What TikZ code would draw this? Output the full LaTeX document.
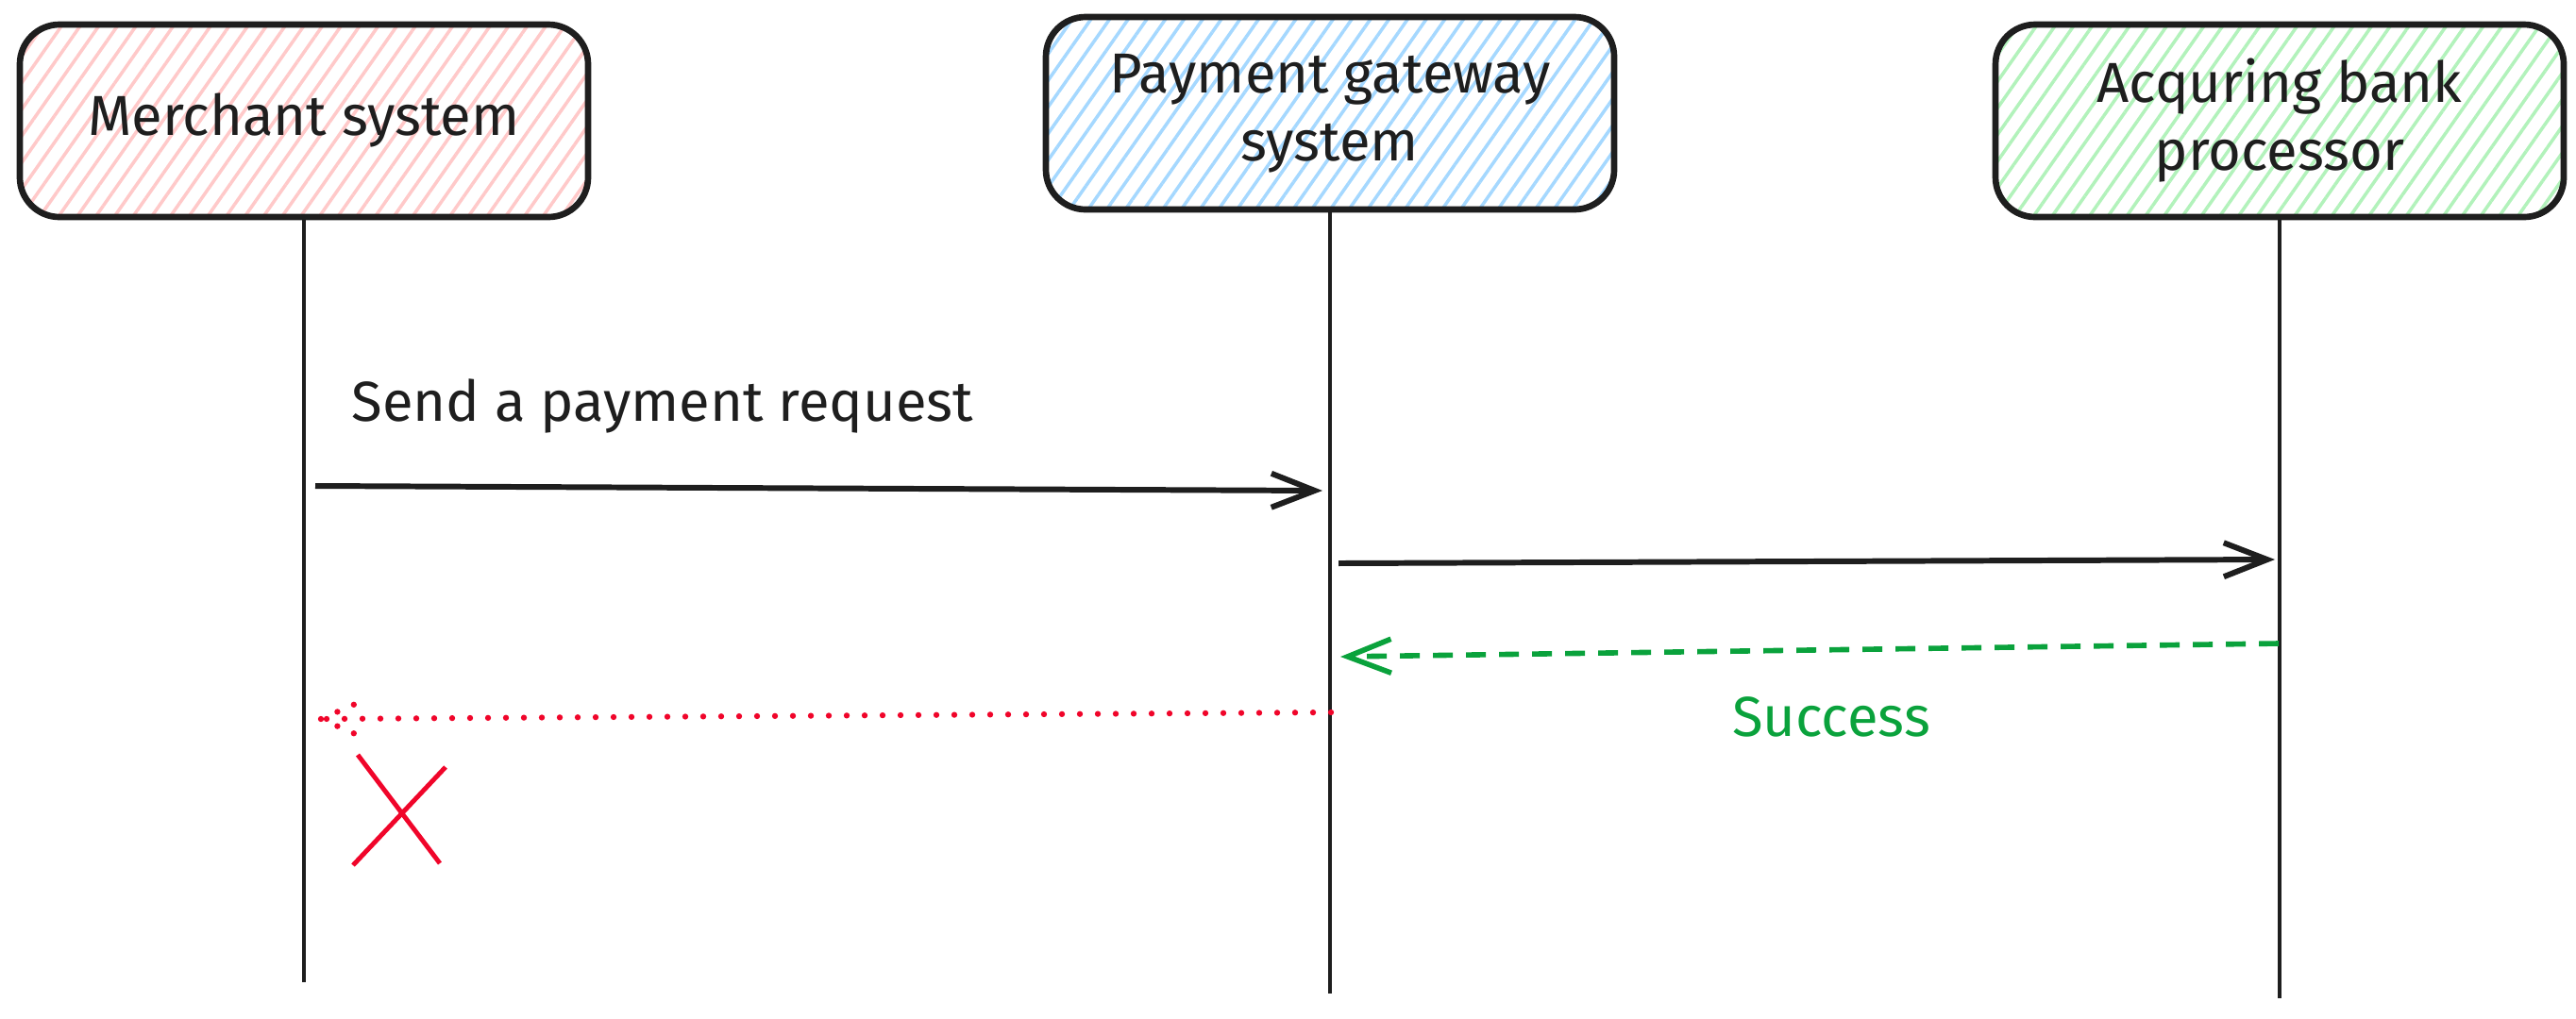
\documentclass[tikz,border=0pt]{standalone}
\usepackage{fontspec}
\setmainfont{Fira Sans}
\usetikzlibrary{arrows.meta,patterns.meta}

\definecolor{ink}{HTML}{1E1E1E}
\definecolor{hatchred}{HTML}{FFC9C9}
\definecolor{hatchblue}{HTML}{A5D8FF}
\definecolor{hatchgreen}{HTML}{B2F2BB}
\definecolor{okgreen}{HTML}{0AA23C}
\definecolor{failred}{HTML}{F0052A}

\begin{document}
\begin{tikzpicture}
[
	              y = -1cm,
	             >= {Straight Barb[length=4.6mm,width=3.6mm]},
	  actor/.style = { draw=ink, line width=1.9pt, rounded corners=0.42cm, minimum width=6.02cm,
	                   minimum height=2.04cm, inner sep=0pt, align=center, text=ink,
	                   font=\fontsize{17}{20.5}\selectfont },
	  hatch/.style = { pattern={Lines[angle=55,distance=4.6pt,line width=1pt]}, pattern color=#1 },
	   life/.style = { draw=ink, line width=1.3pt },
	    msg/.style = { ->, draw=ink, line width=1.7pt },
	  reply/.style = { ->, draw=okgreen, line width=1.6pt, dash pattern=on 0.21cm off 0.14cm },
	   fail/.style = { draw=failred, line width=1.8pt, line cap=round, dash pattern=on 0pt off 0.19cm },
	    tag/.style = { draw=none, inner sep=0pt, text=ink, font=\fontsize{17}{20.5}\selectfont }
]
	\useasboundingbox (0,0) rectangle (27.29,10.79);

	% lifelines
	\node (10) at  (3.22,1.28) [actor, hatch=hatchred]   {Merchant system};
	\node (20) at (14.09,1.20) [actor, hatch=hatchblue]  {Payment gateway\\system};
	\node (30) at (24.15,1.28) [actor, hatch=hatchgreen] {Acquring bank\\processor};

	\coordinate (11) at  (3.22,10.41);
	\coordinate (21) at (14.09,10.53);
	\coordinate (31) at (24.15,10.58);
	\draw [life] (10) -- (11) (20) -- (21) (30) -- (31);

	% request
	\coordinate (12) at  (3.34,5.15);
	\coordinate (22) at (14.01,5.20);
	\draw [msg] (12) -- (22);
	\node (13) at (3.72,4.30) [tag, anchor=west] {Send a payment request};

	\coordinate (23) at (14.18,5.97);
	\coordinate (32) at (24.10,5.93);
	\draw [msg] (23) -- (32);

	% answers
	\coordinate (33) at (24.14,6.82);
	\coordinate (24) at (14.20,6.96);
	\draw [reply] (33) -- (24);
	\node (34) at (19.40,7.60) [tag, text=okgreen] {Success};

	\coordinate (25) at (14.10,7.55);
	\coordinate (14) at  (3.40,7.62);
	\draw [fail] (25) -- (14) (14) -- +(0.48,-0.21) (14) -- +(0.48,0.21);

	\draw [failred, line width=1.4pt] (3.79,8.00) -- (4.66,9.15) (4.72,8.13) -- (3.74,9.17);

\end{tikzpicture}
\end{document}
